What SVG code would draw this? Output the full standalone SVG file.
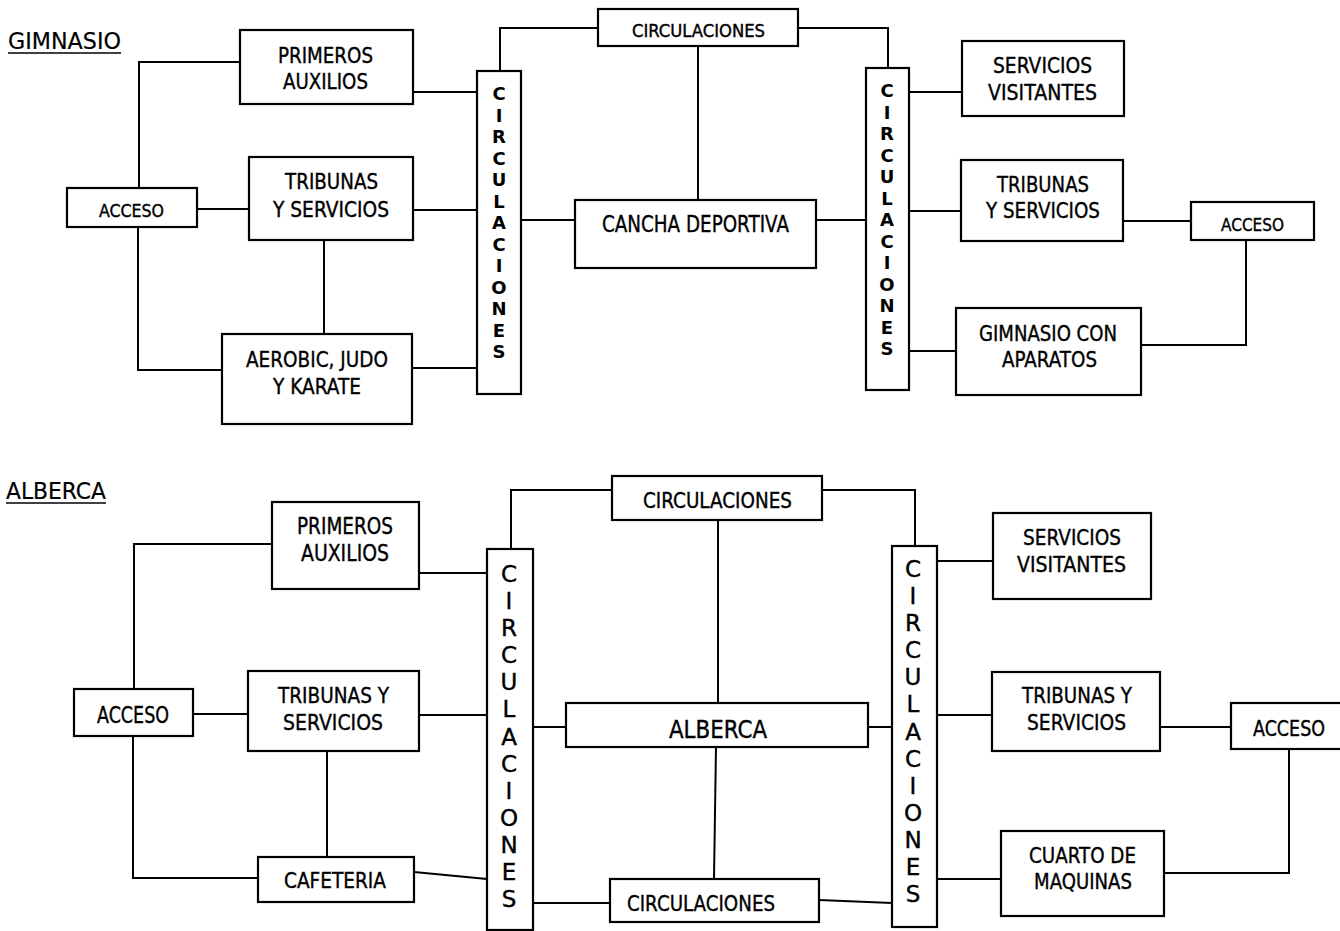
<svg xmlns="http://www.w3.org/2000/svg" width="1340" height="931" viewBox="0 0 1340 931">
<style>
.box{fill:#fff;stroke:#000;stroke-width:2.2}
.ln{fill:none;stroke:#000;stroke-width:2}
.ul{stroke:#000;stroke-width:1.6}
.t{font-family:"DejaVu Sans","Liberation Sans",sans-serif;fill:#000;stroke:#000;stroke-width:0.4}
.v{font-family:"DejaVu Sans","Liberation Sans",sans-serif;fill:#000;text-anchor:middle}
.vb{font-weight:bold;font-size:18px}
.vn{font-size:23px;stroke:#000;stroke-width:0.4}
</style>
<rect width="1340" height="931" fill="#fff"/>

<g id="connectors">
<path class="ln" d="M139,188 V62 H240"/>
<path class="ln" d="M138,227 V370 H222"/>
<path class="ln" d="M197,209 H249"/>
<path class="ln" d="M324,240 V334"/>
<path class="ln" d="M413,92 H477"/>
<path class="ln" d="M413,210 H477"/>
<path class="ln" d="M412,368 H477"/>
<path class="ln" d="M500,71 V28 H598"/>
<path class="ln" d="M798,28 H888 V68"/>
<path class="ln" d="M698,46 V200"/>
<path class="ln" d="M521,220 H575"/>
<path class="ln" d="M816,220 H866"/>
<path class="ln" d="M909,92 H962"/>
<path class="ln" d="M909,211 H961"/>
<path class="ln" d="M909,351 H956"/>
<path class="ln" d="M1123,221 H1191"/>
<path class="ln" d="M1246,240 V345 H1141"/>

<path class="ln" d="M134,689 V544 H272"/>
<path class="ln" d="M133,736 V878 H258"/>
<path class="ln" d="M193,714 H248"/>
<path class="ln" d="M327,751 V857"/>
<path class="ln" d="M419,573 H487"/>
<path class="ln" d="M419,715 H487"/>
<path class="ln" d="M414,872 L487,879"/>
<path class="ln" d="M511,549 V490 H612"/>
<path class="ln" d="M822,490 H915 V546"/>
<path class="ln" d="M718,520 V703"/>
<path class="ln" d="M533,727 H566"/>
<path class="ln" d="M868,727 H892"/>
<path class="ln" d="M716,747 L714,879"/>
<path class="ln" d="M533,903 H610"/>
<path class="ln" d="M819,900 L892,903"/>
<path class="ln" d="M937,561 H993"/>
<path class="ln" d="M937,715 H992"/>
<path class="ln" d="M1160,727 H1231"/>
<path class="ln" d="M1289,749 V873 H1164"/>
<path class="ln" d="M937,879 H1001"/>
</g>

<g id="title-gimnasio">
<text class="t" x="8" y="49" font-size="23" textLength="113" lengthAdjust="spacingAndGlyphs" style="stroke-width:0.2">GIMNASIO</text>
<line class="ul" x1="8" y1="53" x2="121" y2="53"/>
</g>
<g id="g-primeros">
<rect class="box" x="240" y="30" width="173" height="74"/>
<text class="t" x="278" y="63" font-size="22" textLength="95" lengthAdjust="spacingAndGlyphs">PRIMEROS</text>
<text class="t" x="283" y="89" font-size="22" textLength="85" lengthAdjust="spacingAndGlyphs">AUXILIOS</text>
</g>
<g id="g-acceso-l">
<rect class="box" x="67" y="188" width="130" height="39"/>
<text class="t" x="99" y="217" font-size="18" textLength="65" lengthAdjust="spacingAndGlyphs">ACCESO</text>
</g>
<g id="g-tribunas-l">
<rect class="box" x="249" y="157" width="164" height="83"/>
<text class="t" x="285" y="189" font-size="21" textLength="93" lengthAdjust="spacingAndGlyphs">TRIBUNAS</text>
<text class="t" x="273" y="217" font-size="21" textLength="116" lengthAdjust="spacingAndGlyphs">Y SERVICIOS</text>
</g>
<g id="g-aerobic">
<rect class="box" x="222" y="334" width="190" height="90"/>
<text class="t" x="246" y="367" font-size="22" textLength="142" lengthAdjust="spacingAndGlyphs">AEROBIC, JUDO</text>
<text class="t" x="273" y="394" font-size="22" textLength="88" lengthAdjust="spacingAndGlyphs">Y KARATE</text>
</g>
<g id="g-circ-l">
<rect class="box" x="477" y="71" width="44" height="323"/>
<g class="v vb">
<text x="499" y="100">C</text><text x="499" y="121.5">I</text><text x="499" y="143">R</text><text x="499" y="164.5">C</text><text x="499" y="186">U</text><text x="499" y="207.5">L</text><text x="499" y="229">A</text><text x="499" y="250.5">C</text><text x="499" y="272">I</text><text x="499" y="293.5">O</text><text x="499" y="315">N</text><text x="499" y="336.5">E</text><text x="499" y="358">S</text>
</g>
</g>
<g id="g-circ-top">
<rect class="box" x="598" y="9" width="200" height="37"/>
<text class="t" x="632" y="37" font-size="17" textLength="133" lengthAdjust="spacingAndGlyphs">CIRCULACIONES</text>
</g>
<g id="g-cancha">
<rect class="box" x="575" y="200" width="241" height="68"/>
<text class="t" x="602" y="232" font-size="23" textLength="187" lengthAdjust="spacingAndGlyphs">CANCHA DEPORTIVA</text>
</g>
<g id="g-circ-r">
<rect class="box" x="866" y="68" width="43" height="322"/>
<g class="v vb">
<text x="887" y="97">C</text><text x="887" y="118.5">I</text><text x="887" y="140">R</text><text x="887" y="161.5">C</text><text x="887" y="183">U</text><text x="887" y="204.5">L</text><text x="887" y="226">A</text><text x="887" y="247.5">C</text><text x="887" y="269">I</text><text x="887" y="290.5">O</text><text x="887" y="312">N</text><text x="887" y="333.5">E</text><text x="887" y="355">S</text>
</g>
</g>
<g id="g-servicios">
<rect class="box" x="962" y="41" width="162" height="75"/>
<text class="t" x="993" y="73" font-size="22" textLength="99" lengthAdjust="spacingAndGlyphs">SERVICIOS</text>
<text class="t" x="988" y="100" font-size="22" textLength="109" lengthAdjust="spacingAndGlyphs">VISITANTES</text>
</g>
<g id="g-tribunas-r">
<rect class="box" x="961" y="160" width="162" height="81"/>
<text class="t" x="997" y="192" font-size="22" textLength="92" lengthAdjust="spacingAndGlyphs">TRIBUNAS</text>
<text class="t" x="986" y="218" font-size="22" textLength="114" lengthAdjust="spacingAndGlyphs">Y SERVICIOS</text>
</g>
<g id="g-acceso-r">
<rect class="box" x="1191" y="202" width="123" height="38"/>
<text class="t" x="1221" y="231" font-size="18" textLength="63" lengthAdjust="spacingAndGlyphs">ACCESO</text>
</g>
<g id="g-gimnasio-aparatos">
<rect class="box" x="956" y="308" width="185" height="87"/>
<text class="t" x="979" y="341" font-size="22" textLength="138" lengthAdjust="spacingAndGlyphs">GIMNASIO CON</text>
<text class="t" x="1002" y="367" font-size="22" textLength="95" lengthAdjust="spacingAndGlyphs">APARATOS</text>
</g>

<g id="title-alberca">
<text class="t" x="6" y="499" font-size="23" textLength="100" lengthAdjust="spacingAndGlyphs" style="stroke-width:0.2">ALBERCA</text>
<line class="ul" x1="6" y1="503" x2="106" y2="503"/>
</g>
<g id="a-primeros">
<rect class="box" x="272" y="502" width="147" height="87"/>
<text class="t" x="297" y="534" font-size="23" textLength="96" lengthAdjust="spacingAndGlyphs">PRIMEROS</text>
<text class="t" x="301" y="561" font-size="23" textLength="88" lengthAdjust="spacingAndGlyphs">AUXILIOS</text>
</g>
<g id="a-acceso-l">
<rect class="box" x="74" y="689" width="119" height="47"/>
<text class="t" x="97" y="723" font-size="23" textLength="72" lengthAdjust="spacingAndGlyphs">ACCESO</text>
</g>
<g id="a-tribunas-l">
<rect class="box" x="248" y="671" width="171" height="80"/>
<text class="t" x="278" y="703" font-size="22" textLength="111" lengthAdjust="spacingAndGlyphs">TRIBUNAS Y</text>
<text class="t" x="283" y="730" font-size="22" textLength="100" lengthAdjust="spacingAndGlyphs">SERVICIOS</text>
</g>
<g id="a-cafeteria">
<rect class="box" x="258" y="857" width="156" height="45"/>
<text class="t" x="284" y="888" font-size="21" textLength="102" lengthAdjust="spacingAndGlyphs">CAFETERIA</text>
</g>
<g id="a-circ-l">
<rect class="box" x="487" y="549" width="46" height="381"/>
<g class="v vn">
<text x="509" y="582">C</text><text x="509" y="609">I</text><text x="509" y="636">R</text><text x="509" y="663">C</text><text x="509" y="690">U</text><text x="509" y="717">L</text><text x="509" y="744.5">A</text><text x="509" y="771.5">C</text><text x="509" y="798.5">I</text><text x="509" y="825.5">O</text><text x="509" y="852.5">N</text><text x="509" y="879.5">E</text><text x="509" y="907">S</text>
</g>
</g>
<g id="a-circ-top">
<rect class="box" x="612" y="476" width="210" height="44"/>
<text class="t" x="643" y="508" font-size="22" textLength="149" lengthAdjust="spacingAndGlyphs">CIRCULACIONES</text>
</g>
<g id="a-alberca">
<rect class="box" x="566" y="703" width="302" height="44"/>
<text class="t" x="669" y="738" font-size="24" textLength="98" lengthAdjust="spacingAndGlyphs">ALBERCA</text>
</g>
<g id="a-circ-bottom">
<rect class="box" x="610" y="879" width="209" height="43"/>
<text class="t" x="627" y="911" font-size="22" textLength="148" lengthAdjust="spacingAndGlyphs">CIRCULACIONES</text>
</g>
<g id="a-circ-r">
<rect class="box" x="892" y="546" width="45" height="381"/>
<g class="v vn">
<text x="913" y="577">C</text><text x="913" y="604">I</text><text x="913" y="631">R</text><text x="913" y="658">C</text><text x="913" y="685">U</text><text x="913" y="712">L</text><text x="913" y="739.5">A</text><text x="913" y="766.5">C</text><text x="913" y="793.5">I</text><text x="913" y="820.5">O</text><text x="913" y="847.5">N</text><text x="913" y="874.5">E</text><text x="913" y="902">S</text>
</g>
</g>
<g id="a-servicios">
<rect class="box" x="993" y="513" width="158" height="86"/>
<text class="t" x="1023" y="545" font-size="22" textLength="98" lengthAdjust="spacingAndGlyphs">SERVICIOS</text>
<text class="t" x="1017" y="572" font-size="22" textLength="109" lengthAdjust="spacingAndGlyphs">VISITANTES</text>
</g>
<g id="a-tribunas-r">
<rect class="box" x="992" y="672" width="168" height="79"/>
<text class="t" x="1022" y="703" font-size="22" textLength="110" lengthAdjust="spacingAndGlyphs">TRIBUNAS Y</text>
<text class="t" x="1027" y="730" font-size="22" textLength="99" lengthAdjust="spacingAndGlyphs">SERVICIOS</text>
</g>
<g id="a-acceso-r">
<rect class="box" x="1231" y="703" width="115" height="46"/>
<text class="t" x="1253" y="736" font-size="22" textLength="72" lengthAdjust="spacingAndGlyphs">ACCESO</text>
</g>
<g id="a-cuarto">
<rect class="box" x="1001" y="831" width="163" height="85"/>
<text class="t" x="1029" y="863" font-size="22" textLength="107" lengthAdjust="spacingAndGlyphs">CUARTO DE</text>
<text class="t" x="1034" y="889" font-size="22" textLength="98" lengthAdjust="spacingAndGlyphs">MAQUINAS</text>
</g>
</svg>
